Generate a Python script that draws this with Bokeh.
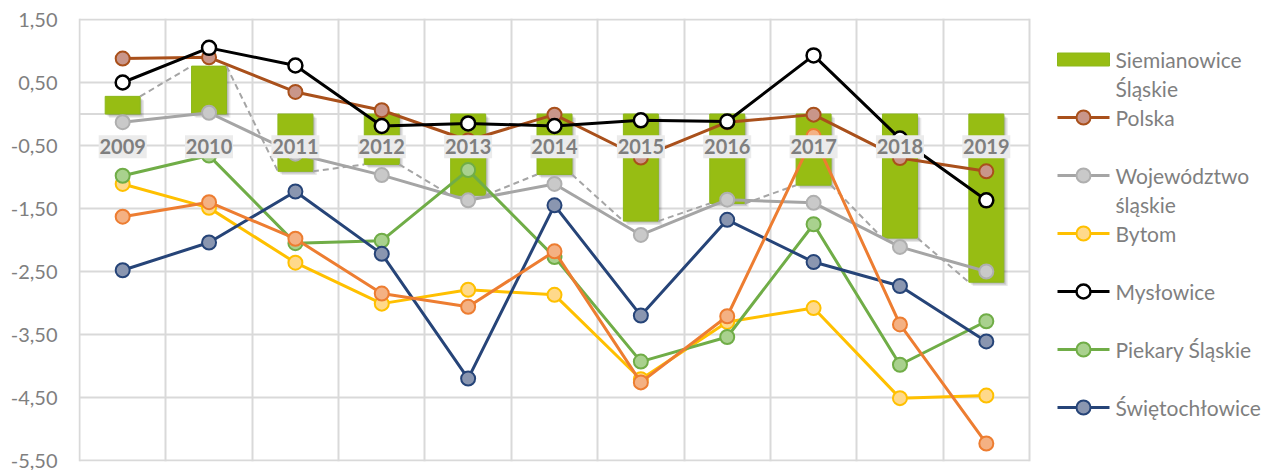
from bokeh.plotting import figure
from bokeh.models import Range1d, FixedTicker, Grid
from bokeh.core.properties import value
from bokeh.embed import file_html
from bokeh.resources import INLINE

# ---------------- data ----------------
years = ["2009", "2010", "2011", "2012", "2013", "2014", "2015", "2016", "2017", "2018", "2019"]

siemianowice = [0.28, 0.76, -0.91, -0.80, -1.29, -0.96, -1.70, -1.42, -1.13, -1.97, -2.67]
polska = [0.88, 0.90, 0.35, 0.06, -0.42, -0.01, -0.69, -0.13, -0.01, -0.70, -0.91]
wojewodztwo = [-0.13, 0.02, -0.63, -0.97, -1.37, -1.11, -1.92, -1.36, -1.41, -2.11, -2.50]
bytom = [-1.11, -1.49, -2.36, -3.01, -2.79, -2.87, -4.21, -3.30, -3.08, -4.51, -4.47]
myslowice = [0.50, 1.05, 0.77, -0.19, -0.15, -0.19, -0.10, -0.12, 0.93, -0.39, -1.37]
piekary = [-0.98, -0.66, -2.05, -2.01, -0.89, -2.27, -3.93, -3.54, -1.75, -3.98, -3.29]
swietochlowice = [-2.48, -2.04, -1.23, -2.22, -4.20, -1.45, -3.20, -1.68, -2.35, -2.73, -3.61]
seria8 = [-1.63, -1.40, -1.98, -2.85, -3.06, -2.18, -4.26, -3.21, -0.35, -3.34, -5.23]

y_ticks = [1.5, 0.5, -0.5, -1.5, -2.5, -3.5, -4.5, -5.5]
y_tick_labels = ["1,50", "0,50", "-0,50", "-1,50", "-2,50", "-3,50", "-4,50", "-5,50"]

legend_labels = ["Siemianowice\nŚląskie", "Polska", "Województwo\nśląskie", "Bytom",
                 "Mysłowice", "Piekary Śląskie", "Świętochłowice"]

# ---------------- styles / layout ----------------
FONT = "Lato"
TXT = "#7F7F7F"
GRID = "#D9D9D9"
BAR = "#97BD13"
BAR_W = 0.405
LABEL_Y = -0.52

W, H = 1277, 470
BL, BR, BT, BB = 78, 0, 18, 9
FW, FH = W - BL - BR, H - BT - BB
N = len(years)
PX_X = 950 / N                    # pixels per category
PX_Y = 63                         # pixels per y unit
PAD = 1                           # pixel padding so edge gridlines are not clipped
x_start = -0.5 - PAD / PX_X
x_end = x_start + FW / PX_X
y_top = y_ticks[0] + PAD / PX_Y
y_bot = y_top - FH / PX_Y

styles = {
    "Polska": ("#A9501B", "#C9968A", "#A9501B"),
    "Województwo śląskie": ("#A5A5A5", "#C9C9C9", "#AFAFAF"),
    "Bytom": ("#FFC000", "#FFD98B", "#FFC000"),
    "Mysłowice": ("#000000", "#FFFFFF", "#000000"),
    "Piekary Śląskie": ("#70AD47", "#A9D18E", "#70AD47"),
    "Świętochłowice": ("#264478", "#8A96B0", "#264478"),
    "Seria 8": ("#ED7D31", "#F4B183", "#ED7D31"),
}

idx = list(range(N))

p = figure(width=W, height=H, x_axis_type=None,
           x_range=Range1d(x_start, x_end), y_range=Range1d(y_bot, y_top),
           output_backend="svg", toolbar_location=None,
           min_border_left=BL, min_border_right=BR, min_border_top=BT, min_border_bottom=BB)
p.extra_x_ranges = {"px": Range1d(-PAD, FW - PAD)}
p.extra_y_ranges = {"py": Range1d(FH - PAD, -PAD)}
p.outline_line_color = None
p.background_fill_color = "white"
p.border_fill_color = "white"

p.yaxis.ticker = FixedTicker(ticks=y_ticks)
p.yaxis.major_label_overrides = {t: l for t, l in zip(y_ticks, y_tick_labels)}
p.yaxis.axis_line_color = None
p.yaxis.major_tick_line_color = None
p.yaxis.minor_tick_line_color = None
p.yaxis.major_tick_out = 0
p.yaxis.major_label_standoff = 21
p.yaxis.major_label_text_font = FONT
p.yaxis.major_label_text_font_size = "20px"
p.yaxis.major_label_text_color = TXT
p.ygrid.visible = False

# vertical gridlines at category boundaries
p.add_layout(Grid(dimension=0, ticker=FixedTicker(ticks=[i - 0.5 for i in range(N + 1)]),
                  grid_line_color=GRID, grid_line_width=2))
# horizontal gridlines limited to the category area (+ zero axis line)
hy = y_ticks + [0]
p.segment(x0=[-0.5] * len(hy), x1=[N - 0.5] * len(hy), y0=hy, y1=hy,
          line_color=GRID, line_width=2)

# bar shadows
for dx, dy, a in [(0.045, 0.06, 0.09), (0.028, 0.04, 0.11), (0.014, 0.02, 0.11)]:
    p.vbar(x=[i + dx for i in idx], top=[v - dy if v > 0 else 0 - dy for v in siemianowice],
           bottom=[0 - dy if v > 0 else v - dy for v in siemianowice],
           width=BAR_W, fill_color="black", fill_alpha=a, line_color=None)
p.vbar(x=idx, top=siemianowice, bottom=0, width=BAR_W, fill_color=BAR,
       line_color="#8CB81A", line_width=1)

# series lines between bar ends
xs, ys = [], []
for i in range(N - 1):
    xs.append([i + BAR_W / 2, i + 1 - BAR_W / 2])
    ys.append([siemianowice[i], siemianowice[i + 1]])
p.multi_line(xs=xs, ys=ys, line_color="#A5A5A5", line_width=2, line_dash="6 4")

series = [("Polska", polska), ("Województwo śląskie", wojewodztwo), ("Bytom", bytom),
          ("Mysłowice", myslowice), ("Piekary Śląskie", piekary),
          ("Świętochłowice", swietochlowice), ("Seria 8", seria8)]
for name, vals in series:
    lc, fc, oc = styles[name]
    p.line(idx, vals, line_color=lc, line_width=3)
    p.scatter(idx, vals, size=14, fill_color=fc, line_color=oc,
              line_width=2.5 if name == "Mysłowice" else 2)

# year labels with background
p.rect(x=idx, y=[LABEL_Y] * N, width=48, height=23, width_units="screen",
       height_units="screen", fill_color="#EBEBEB", line_color=None)
p.text(x=idx, y=[LABEL_Y] * N, text=years, text_align="center", text_baseline="middle",
       text_font=value(FONT), text_font_style="bold", text_font_size="20px", text_color=TXT)

# ---------------- legend (frame pixel coordinates) ----------------
LX0, LX1, LMX, LTX = 978, 1030, 1004, 1036
ROW0, ROW_H, LINE_H = 40, 58, 29
ent_y = [ROW0 + ROW_H * i for i in range(len(legend_labels))]
p.rect(x=[LMX], y=[ent_y[0]], width=LX1 - LX0, height=13, fill_color=BAR,
       line_color="#8CB81A", x_range_name="px", y_range_name="py")
for k, (name, _) in enumerate(series[:-1]):
    lc, fc, oc = styles[name]
    yy = ent_y[k + 1]
    p.line([LX0, LX1], [yy, yy], line_color=lc, line_width=3, x_range_name="px", y_range_name="py")
    p.scatter([LMX], [yy], size=14, fill_color=fc, line_color=oc,
              line_width=2.5 if name == "Mysłowice" else 2, x_range_name="px", y_range_name="py")
tx, ty, tt = [], [], []
for i, lab in enumerate(legend_labels):
    for j, part in enumerate(lab.split("\n")):
        tx.append(LTX)
        ty.append(ent_y[i] + LINE_H * j)
        tt.append(part)
p.text(x=tx, y=ty, text=tt, text_align="left", text_baseline="middle",
       text_font=value(FONT), text_font_size="21px", text_color=TXT,
       x_range_name="px", y_range_name="py")

open("out.html", "w").write(file_html(p, INLINE))
